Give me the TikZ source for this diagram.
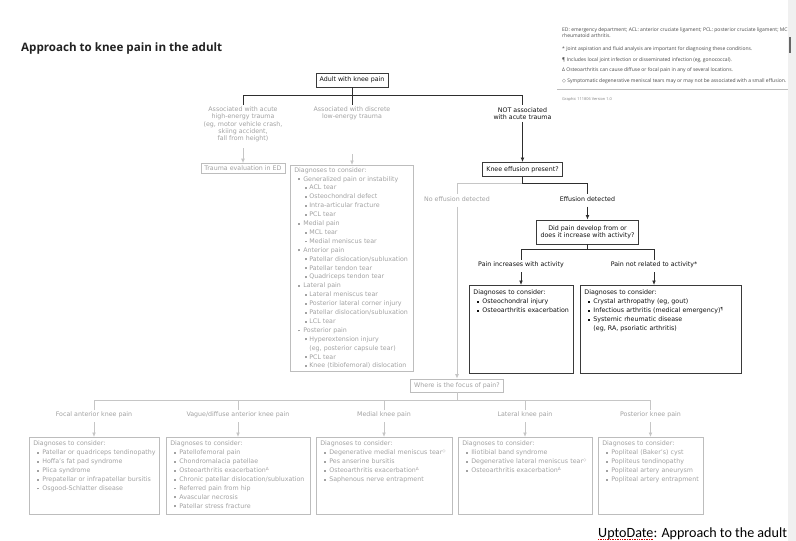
\documentclass[tikz,border=0pt]{standalone}
\usepackage{fontspec}
\setmainfont{DejaVu Sans}
\newfontfamily\titlefont{Open Sans}
\newfontfamily\notefont{Open Sans}
\newfontfamily\symfont{DejaVu Sans}
\newfontfamily\capfont{Carlito}
\usetikzlibrary{arrows.meta,positioning,calc}

\definecolor{txtblack}{HTML}{111111}
\definecolor{lineblack}{HTML}{2E2E2E}
\definecolor{boxblack}{HTML}{3A3A3A}
\definecolor{txtgray}{HTML}{A2A2A2}
\definecolor{linegray}{HTML}{C6C6C6}
\definecolor{boxgray}{HTML}{BDBDBD}
\definecolor{notegray}{HTML}{4A4A4A}
\definecolor{titlecol}{HTML}{222222}
\definecolor{stripgray}{HTML}{F0F0F0}

\newcommand{\bul}{\raisebox{0.9pt}{\rule{1.9pt}{1.9pt}}}
\newcommand{\itm}[1]{\hspace*{4pt}\makebox[5pt][l]{\bul}\mbox{#1}}
\newcommand{\subitm}[1]{\hspace*{11pt}\makebox[4pt][l]{\bul}\mbox{#1}}
\newcommand{\upmark}[1]{\raisebox{2.3pt}{\fontsize{4.2}{4.2}\selectfont#1}}

\begin{document}
\begin{tikzpicture}[
    x=1pt, y=-1pt,
    >={Latex[length=4.5pt,width=3.8pt]},
    bbox/.style={rectangle, draw=boxblack, line width=0.9pt, text=txtblack, align=center,
                 inner xsep=3.5pt, inner ysep=1pt, font=\fontsize{6.3}{7.3}\selectfont},
    gbox/.style={bbox, draw=boxgray, line width=0.7pt, text=txtgray},
    blbl/.style={align=center, inner sep=2pt, text=txtblack, font=\fontsize{6.3}{7.3}\selectfont},
    glbl/.style={blbl, text=txtgray},
    blist/.style={rectangle, draw=boxblack, line width=0.9pt, text=txtblack, anchor=north west,
                  align=left, inner xsep=4pt, text height=5pt, font=\fontsize{6.3}{8.9}\selectfont},
    glist/.style={blist, draw=boxgray, line width=0.7pt, text=txtgray},
    bline/.style={lineblack, line width=0.8pt},
    gline/.style={linegray, line width=0.8pt},
    barr/.style={bline, ->},
    garr/.style={gline, ->},
    note/.style={inner sep=0pt, text=notegray, align=left, font=\notefont\fontsize{5}{5.8}\selectfont}
  ]
    \useasboundingbox (0,0) rectangle (796,541);
    \fill[white] (0,0) rectangle (796,541);

    %--- Title and notes ---
    \node[anchor=base west, inner sep=0pt, text=titlecol,
          font=\titlefont\bfseries\fontsize{11.6}{14}\selectfont] (title) at (21,51.5)
          {Approach to knee pain in the adult};
    \node[note, anchor=north west] (abbr) at (562,27.6)
          {ED: emergency department; ACL: anterior cruciate ligament; PCL: posterior cruciate ligament; MCL\\
           rheumatoid arthritis.};
    \node[note, anchor=base west] (nstar) at (562,50.6)
          {* Joint aspiration and fluid analysis are important for diagnosing these conditions.};
    \node[note, anchor=base west] (npara) at (562,61.6)
          {¶ Includes local joint infection or disseminated infection (eg, gonococcal).};
    \node[note, anchor=base west] (ndelta) at (562,71.8)
          {Δ Osteoarthritis can cause diffuse or focal pain in any of several locations.};
    \node[note, anchor=base west] (ndiam) at (562,82.6)
          {{\symfont ◇} Symptomatic degenerative meniscal tears may or may not be associated with a small effusion.};
    \draw[boxgray, line width=0.6pt] (557,89) -- (788,89);
    \node[note, anchor=base west, text=gray, font=\notefont\fontsize{3.9}{4.5}\selectfont] (graphic) at (562,100.3)
          {Graphic 111806 Version 1.0};

    %--- Start and trauma branches ---
    \node[bbox, minimum width=72pt, minimum height=14pt] (adult) at (352,80) {Adult with knee pain};
    \node[glbl] (acute) at (243,124.5)
          {Associated with acute\\high-energy trauma\\(eg, motor vehicle crash,\\skiing accident,\\fall from height)};
    \node[glbl] (discrete) at (352,113.5) {Associated with discrete\\low-energy trauma};
    \node[blbl] (notassoc) at (522.5,113.5) {NOT associated\\with acute trauma};

    \draw[bline] (adult.south) -- ++(0,8) -| (acute.north);
    \draw[bline] (adult.south) -- ++(0,8) -| (notassoc.north);
    \draw[bline] (adult.south) -- (discrete.north);

    \node[gbox, minimum width=84pt, minimum height=10pt] (trauma) at (243,168.5) {Trauma evaluation in ED};
    \node[glist, text width=115pt, inner ysep=1.8pt, text depth=197.4pt] (gdiag) at (290,165)
          {Diagnoses to consider:\\
           \itm{Generalized pain or instability}\\
           \subitm{ACL tear}\\
           \subitm{Osteochondral defect}\\
           \subitm{Intra-articular fracture}\\
           \subitm{PCL tear}\\
           \itm{Medial pain}\\
           \subitm{MCL tear}\\
           \subitm{Medial meniscus tear}\\
           \itm{Anterior pain}\\
           \subitm{Patellar dislocation/subluxation}\\
           \subitm{Patellar tendon tear}\\
           \subitm{Quadriceps tendon tear}\\
           \itm{Lateral pain}\\
           \subitm{Lateral meniscus tear}\\
           \subitm{Posterior lateral corner injury}\\
           \subitm{Patellar dislocation/subluxation}\\
           \subitm{LCL tear}\\
           \itm{Posterior pain}\\
           \subitm{Hyperextension injury}\\
           \hspace*{15pt}\mbox{(eg, posterior capsule tear)}\\
           \subitm{PCL tear}\\
           \subitm{Knee (tibiofemoral) dislocation}};

    \draw[garr, shorten <=4pt] (acute.south) -- (acute.south |- trauma.north);
    \draw[garr, shorten <=32pt] (discrete.south) -- (discrete.south |- gdiag.north);

    %--- Effusion question ---
    \node[bbox, minimum width=80pt, minimum height=14pt] (knee) at (522.5,169.5) {Knee effusion present?};
    \draw[barr] (notassoc.south) -- (notassoc.south |- knee.north);

    \node[glbl] (noeff) at (457,199) {No effusion detected};
    \node[blbl] (effdet) at (587.5,199) {Effusion detected};
    \coordinate (kj) at ($(knee.south)+(0,6)$);
    \draw[gline] (kj) -| (noeff.north);
    \draw[bline] (knee.south) -- (kj) -| (effdet.north);

    \node[bbox, minimum width=102pt, minimum height=24pt] (didpain) at (587.5,232)
          {Did pain develop from or\\does it increase with activity?};
    \draw[barr, shorten <=3pt] (effdet.south) -- (effdet.south |- didpain.north);

    %--- Activity branches ---
    \node[blbl] (incr) at (521,265) {Pain increases with activity};
    \node[blbl] (notrel) at (654,265) {Pain not related to activity*};
    \coordinate (dj) at ($(didpain.south)+(0,5)$);
    \draw[bline] (didpain.south) -- (dj) -| (incr.north);
    \draw[bline] (dj) -| (notrel.north);

    \node[blist, text width=96pt, inner ysep=4.5pt, text depth=74pt] (lbox) at (469,285)
          {Diagnoses to consider:\\
           \itm{Osteochondral injury}\\
           \itm{Osteoarthritis exacerbation}};
    \node[blist, text width=153pt, inner ysep=4.5pt, text depth=74pt] (rbox) at (580,285)
          {Diagnoses to consider:\\
           \itm{Crystal arthropathy (eg, gout)}\\
           \itm{Infectious arthritis (medical emergency)\upmark{¶}}\\
           \itm{Systemic rheumatic disease}\\
           \hspace*{9pt}\mbox{(eg, RA, psoriatic arthritis)}};
    \draw[barr, shorten <=2pt] (incr.south) -- (incr.south |- lbox.north);
    \draw[barr, shorten <=2pt] (notrel.south) -- (notrel.south |- rbox.north);

    %--- Focus of pain ---
    \node[gbox, minimum width=93pt, minimum height=13pt] (focus) at (457,385.5) {Where is the focus of pain?};
    \draw[garr, shorten <=3pt] (noeff.south) -- (noeff.south |- focus.north);

    \node[glbl] (focal)     at (94,415)    {Focal anterior knee pain};
    \node[glbl] (vague)     at (238,415)   {Vague/diffuse anterior knee pain};
    \node[glbl] (medial)    at (384,415)   {Medial knee pain};
    \node[glbl] (lateral)   at (525,415)   {Lateral knee pain};
    \node[glbl] (posterior) at (650.5,415) {Posterior knee pain};

    \coordinate (fj) at ($(focus.south)+(0,8)$);
    \draw[gline] (focus.south) -- (fj);
    \draw[gline] (fj) -| (focal.north);
    \draw[gline] (fj) -| (vague.north);
    \draw[gline] (fj) -| (medial.north);
    \draw[gline] (fj) -| (lateral.north);
    \draw[gline] (fj) -| (posterior.north);

    \node[glist, text width=122pt, inner ysep=3.5pt, text depth=65pt] (focalbox) at (29,437)
          {Diagnoses to consider:\\
           \itm{Patellar or quadriceps tendinopathy}\\
           \itm{Hoffa's fat pad syndrome}\\
           \itm{Plica syndrome}\\
           \itm{Prepatellar or infrapatellar bursitis}\\
           \itm{Osgood-Schlatter disease}};
    \node[glist, text width=136pt, inner ysep=3.5pt, text depth=65pt] (vaguebox) at (166,437)
          {Diagnoses to consider:\\
           \itm{Patellofemoral pain}\\
           \itm{Chondromalacia patellae}\\
           \itm{Osteoarthritis exacerbation\upmark{Δ}}\\
           \itm{Chronic patellar dislocation/subluxation}\\
           \itm{Referred pain from hip}\\
           \itm{Avascular necrosis}\\
           \itm{Patellar stress fracture}};
    \node[glist, text width=128pt, inner ysep=3.5pt, text depth=65pt] (medialbox) at (316,437)
          {Diagnoses to consider:\\
           \itm{Degenerative medial meniscus tear\upmark{◇}}\\
           \itm{Pes anserine bursitis}\\
           \itm{Osteoarthritis exacerbation\upmark{Δ}}\\
           \itm{Saphenous nerve entrapment}};
    \node[glist, text width=126pt, inner ysep=3.5pt, text depth=65pt] (latbox) at (458,437)
          {Diagnoses to consider:\\
           \itm{Iliotibial band syndrome}\\
           \itm{Degenerative lateral meniscus tear\upmark{◇}}\\
           \itm{Osteoarthritis exacerbation\upmark{Δ}}};
    \node[glist, text width=97pt, inner ysep=3.5pt, text depth=65pt] (postbox) at (598,437)
          {Diagnoses to consider:\\
           \itm{Popliteal (Baker's) cyst}\\
           \itm{Popliteus tendinopathy}\\
           \itm{Popliteal artery aneurysm}\\
           \itm{Popliteal artery entrapment}};

    \draw[garr, shorten <=2pt] (focal.south) -- (focal.south |- focalbox.north);
    \draw[garr, shorten <=2pt] (vague.south) -- (vague.south |- vaguebox.north);
    \draw[garr, shorten <=2pt] (medial.south) -- (medial.south |- medialbox.north);
    \draw[garr, shorten <=2pt] (lateral.south) -- (lateral.south |- latbox.north);
    \draw[garr, shorten <=2pt] (posterior.south) -- (posterior.south |- postbox.north);

    %--- Caption and window edge ---
    \node[anchor=base west, inner sep=0pt, font=\capfont\fontsize{14.1}{16}\selectfont] (caption) at (598,537.5)
          {UptoDate: Approach to the adult};
    \draw[red!80!black, densely dotted, line width=0.7pt]
          ([yshift=-2pt]caption.base west) -- ++(55,0);
    \fill[stripgray] (788,0) rectangle (796,541);
    \fill[gray!80!black] (789,37) rectangle (790.8,53);
  \end{tikzpicture}
\end{document}
